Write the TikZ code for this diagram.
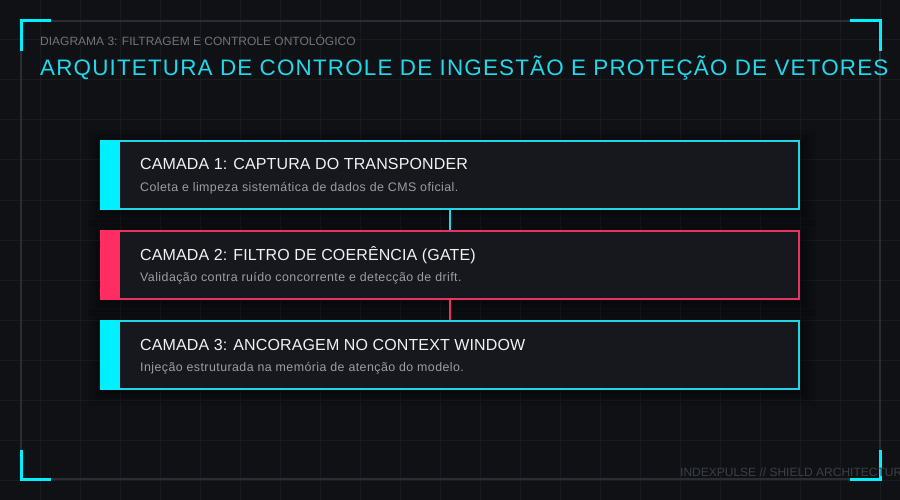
\documentclass[tikz,border=0pt]{standalone}
\usepackage{fontspec}
\setmainfont{Liberation Sans}
\newfontfamily\titlefont[LetterSpace=5.3]{Liberation Sans}
\newfontfamily\subfont[LetterSpace=3.5]{Liberation Sans}
\newfontfamily\layerfont[LetterSpace=0.8]{Liberation Sans}
\definecolor{bg}{HTML}{0F1115}
\definecolor{gridc}{HTML}{181B20}
\definecolor{framec}{HTML}{2A2D33}
\definecolor{neon}{HTML}{00F0FF}
\definecolor{cyanline}{HTML}{22D6E6}
\definecolor{titlecyan}{HTML}{22D8EC}
\definecolor{pinkc}{HTML}{FF2D62}
\definecolor{pinkline}{HTML}{E8325F}
\definecolor{boxfill}{HTML}{16181E}
\definecolor{headgray}{HTML}{707379}
\definecolor{footgray}{HTML}{3C3F46}
\definecolor{boxtitle}{HTML}{F2F2F2}
\definecolor{boxsub}{HTML}{9C9EA5}
\tikzset{
  layerbox/.style={draw=#1, line width=2pt, fill=boxfill, rectangle,
    minimum width=698pt, minimum height=68pt, inner sep=0pt},
  ltitle/.style={anchor=base west, inner sep=0pt, text=boxtitle,
    font=\layerfont\fontsize{16}{18}\selectfont},
  lsub/.style={anchor=base west, inner sep=0pt, text=boxsub,
    font=\subfont\fontsize{12.4}{14}\selectfont},
  shade1/.style={fill=black, opacity=0.1},
  link/.style={line width=2pt}
}
\begin{document}
\begin{tikzpicture}[x=1pt,y=-1pt]
\useasboundingbox (0,0) rectangle (900,500);
\clip (0,0) rectangle (900,500);
\fill[bg] (0,0) rectangle (900,500);
% grid
\foreach \g in {40,80,...,880} \draw[gridc, line width=1pt] (\g,0) -- (\g,500);
\foreach \g in {40,80,...,480} \draw[gridc, line width=1pt] (0,\g) -- (900,\g);
% frame
\draw[framec, line width=1.5pt] (21,21) rectangle (880,479);
% corner brackets
\draw[neon, line width=3pt] (21,51) -- (21,21) -- (51,21);
\draw[neon, line width=3pt] (850,21) -- (880,21) -- (880,51);
\draw[neon, line width=3pt] (21,450) -- (21,479) -- (51,479);
\draw[neon, line width=3pt] (850,479) -- (880,479) -- (880,450);
% headings
\node[anchor=base west, inner sep=0pt, text=headgray, font=\fontsize{12}{14}\selectfont] (kicker) at (40,46) {DIAGRAMA 3: FILTRAGEM E CONTROLE ONTOLÓGICO};
\node[anchor=base west, inner sep=0pt, text=titlecyan, font=\titlefont\fontsize{22.4}{26}\selectfont] (title) at (40,76) {ARQUITETURA DE CONTROLE DE INGESTÃO E PROTEÇÃO DE VETORES};
\node[anchor=base west, inner sep=0pt, text=footgray, font=\fontsize{12}{14}\selectfont] (footer) at (680,476) {INDEXPULSE // SHIELD ARCHITECTURE};
% shadows
\foreach \t in {140,230,320} {
  \foreach \e in {4,8,12,16} {
    \fill[shade1] (100-\e+4,\t-\e+6) rectangle (800+\e,\t+70+\e);
  }
}
% boxes
\node[layerbox=cyanline] (box1) at (450,175) {};
\node[layerbox=pinkline] (box2) at (450,265) {};
\node[layerbox=cyanline] (box3) at (450,355) {};
\fill[neon] (100,140) rectangle (120,210);
\fill[pinkc] (100,230) rectangle (120,300);
\fill[neon] (100,320) rectangle (120,390);
% connectors
\draw[link, cyanline] (box1.south) -- (box2.north);
\draw[link, pinkline] (box2.south) -- (box3.north);
% texts
\node[ltitle] (t1) at (140,170) {CAMADA 1: CAPTURA DO TRANSPONDER};
\node[lsub] (s1) at (140,191) {Coleta e limpeza sistemática de dados de CMS oficial.};
\node[ltitle] (t2) at (140,260) {CAMADA 2: FILTRO DE COERÊNCIA (GATE)};
\node[lsub] (s2) at (140,281) {Validação contra ruído concorrente e detecção de drift.};
\node[ltitle] (t3) at (140,350) {CAMADA 3: ANCORAGEM NO CONTEXT WINDOW};
\node[lsub] (s3) at (140,371) {Injeção estruturada na memória de atenção do modelo.};
\end{tikzpicture}
\end{document}
